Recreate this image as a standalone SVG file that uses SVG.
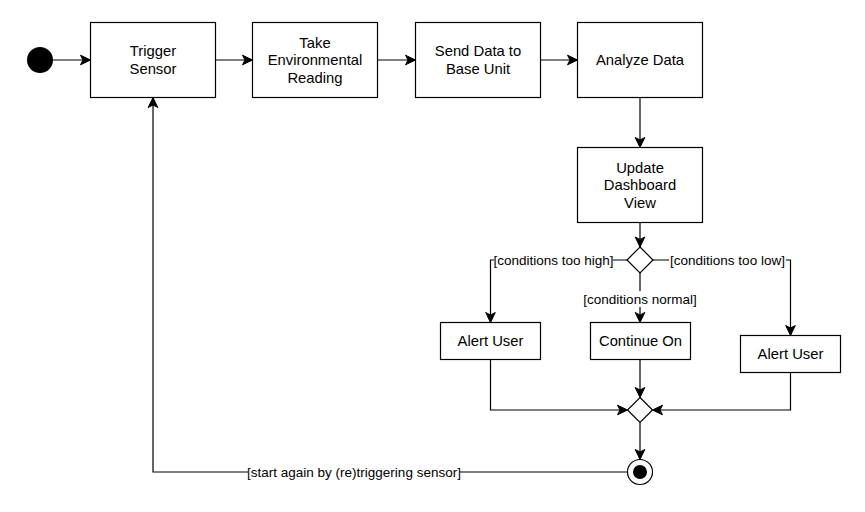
<svg xmlns="http://www.w3.org/2000/svg" width="865" height="512" viewBox="0 0 865 512">
<style>
.box{fill:#fff;stroke:#000;stroke-width:1.2}
.t{font-family:"Liberation Sans",Arial,sans-serif;font-size:14.8px;fill:#000;text-anchor:middle}
.lbl{font-family:"Liberation Sans",Arial,sans-serif;font-size:13.5px;fill:#000;text-anchor:middle}
.e{fill:none;stroke:#000;stroke-width:1.2}
.bg{fill:#fff}
</style>
<defs>
<marker id="arr" markerUnits="userSpaceOnUse" viewBox="-11 -6 12 12" refX="0" refY="0" markerWidth="12" markerHeight="12" orient="auto">
<path d="M0,0 L-10,-4.8 L-7.5,0 L-10,4.8 Z" fill="#000" stroke="#000" stroke-width="1"/>
</marker>
</defs>
<g id="connectors">
<line class="e" x1="53" y1="60" x2="90.5" y2="60" marker-end="url(#arr)"/>
<line class="e" x1="215.5" y1="60" x2="252.5" y2="60" marker-end="url(#arr)"/>
<line class="e" x1="377.5" y1="60" x2="415.5" y2="60" marker-end="url(#arr)"/>
<line class="e" x1="540.5" y1="60" x2="577.5" y2="60" marker-end="url(#arr)"/>
<line class="e" x1="640" y1="97.5" x2="640" y2="147.5" marker-end="url(#arr)"/>
<line class="e" x1="640" y1="222.5" x2="640" y2="247" marker-end="url(#arr)"/>
<polyline class="e" points="627,260 490.5,260 490.5,322.5" marker-end="url(#arr)"/>
<polyline class="e" points="653,260 790.5,260 790.5,335.5" marker-end="url(#arr)"/>
<line class="e" x1="640" y1="273" x2="640" y2="322.5" marker-end="url(#arr)"/>
<polyline class="e" points="490.5,359.5 490.5,410 627.5,410" marker-end="url(#arr)"/>
<polyline class="e" points="790.5,372.5 790.5,410 652.5,410" marker-end="url(#arr)"/>
<line class="e" x1="640" y1="359.5" x2="640" y2="397.5" marker-end="url(#arr)"/>
<line class="e" x1="640" y1="422.5" x2="640" y2="459.5" marker-end="url(#arr)"/>
<polyline class="e" points="627.5,472 153,472 153,97.5" marker-end="url(#arr)"/>
<rect class="bg" x="494" y="252" width="119" height="16"/>
<text class="lbl" x="553.5" y="264.5">[conditions too high]</text>
<rect class="bg" x="669" y="252" width="117" height="16"/>
<text class="lbl" x="727.5" y="264.5">[conditions too low]</text>
<rect class="bg" x="580" y="291" width="120" height="16"/>
<text class="lbl" x="640" y="303.5">[conditions normal]</text>
<rect class="bg" x="248" y="464" width="212" height="16"/>
<text class="lbl" x="354" y="476.5">[start again by (re)triggering sensor]</text>
</g>
<g id="start"><circle cx="40" cy="60" r="13" fill="#000"/></g>
<g id="trigger"><rect class="box" x="90.5" y="22.5" width="125" height="75"/><text class="t" x="153" y="56.3">Trigger</text><text class="t" x="153" y="73.8">Sensor</text></g>
<g id="take"><rect class="box" x="252.5" y="22.5" width="125" height="75"/><text class="t" x="315" y="47.5">Take</text><text class="t" x="315" y="65">Environmental</text><text class="t" x="315" y="82.5">Reading</text></g>
<g id="send"><rect class="box" x="415.5" y="22.5" width="125" height="75"/><text class="t" x="478" y="56.3">Send Data to</text><text class="t" x="478" y="73.8">Base Unit</text></g>
<g id="analyze"><rect class="box" x="577.5" y="22.5" width="125" height="75"/><text class="t" x="640" y="65.2">Analyze Data</text></g>
<g id="update"><rect class="box" x="577.5" y="147.5" width="125" height="75"/><text class="t" x="640" y="172.5">Update</text><text class="t" x="640" y="190">Dashboard</text><text class="t" x="640" y="207.5">View</text></g>
<g id="decision"><path class="box" d="M640,247 L653,260 L640,273 L627,260 Z"/></g>
<g id="alert1"><rect class="box" x="440.5" y="322.5" width="100" height="37"/><text class="t" x="490.5" y="346.2">Alert User</text></g>
<g id="continue"><rect class="box" x="590.5" y="322.5" width="100" height="37"/><text class="t" x="640.5" y="346.2">Continue On</text></g>
<g id="alert2"><rect class="box" x="740.5" y="335.5" width="100" height="37"/><text class="t" x="790.5" y="359.2">Alert User</text></g>
<g id="merge"><path class="box" d="M640,397.5 L652.5,410 L640,422.5 L627.5,410 Z"/></g>
<g id="end"><circle cx="640" cy="472" r="12.5" fill="#fff" stroke="#000" stroke-width="1.2"/><circle cx="640" cy="472" r="7" fill="#000"/></g>
</svg>
